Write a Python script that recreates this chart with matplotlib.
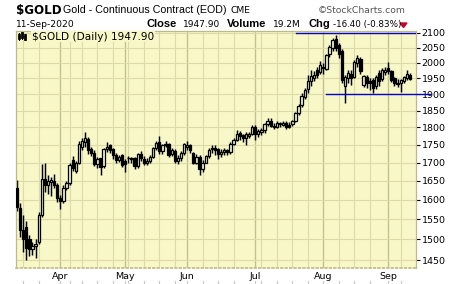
import matplotlib
matplotlib.use("Agg")
import matplotlib.pyplot as plt
import numpy as np
import pandas as pd
from matplotlib.lines import Line2D
from matplotlib.patches import Polygon
from matplotlib.ticker import FixedLocator, NullLocator, FuncFormatter

# daily candles, 12-Mar-2020 .. 11-Sep-2020
dates = pd.bdate_range("2020-03-12", "2020-09-11")
holidays = pd.to_datetime(["2020-04-10", "2020-05-25", "2020-07-03", "2020-09-07"])
dates = dates[~dates.isin(holidays)]

opens = [1630, 1580, 1524, 1530, 1500, 1478, 1484, 1495, 1562, 1656,
         1640, 1648, 1650, 1640, 1605, 1598, 1630, 1645, 1708, 1676,
         1700, 1745, 1758, 1766, 1738, 1727, 1695, 1712, 1690, 1738,
         1750, 1738, 1722, 1708, 1720, 1705, 1712, 1712, 1712, 1690,
         1725, 1710, 1698, 1705, 1716, 1740, 1758, 1733, 1750, 1753,
         1723, 1733, 1705, 1713, 1728, 1745, 1750, 1726, 1700, 1716,
         1683, 1700, 1718, 1737, 1742, 1737, 1725, 1730, 1735, 1730,
         1753, 1765, 1783, 1777, 1770, 1775, 1782, 1800, 1780, 1788,
         1793, 1809, 1820, 1803, 1801, 1812, 1808, 1814, 1808, 1810,
         1818, 1843, 1866, 1893, 1915, 1940, 1950, 1975, 1970, 1985,
         1980, 2030, 2048, 2079, 2060, 2040, 1925, 1950, 1965, 1955,
         2000, 2012, 1930, 1955, 1940, 1945, 1925, 1968, 1948, 1970,
         1982, 1974, 1950, 1935, 1935, 1940, 1950, 1960]
highs = [1653, 1592, 1560, 1547, 1510, 1495, 1502, 1568, 1697, 1700,
         1665, 1660, 1668, 1645, 1612, 1640, 1650, 1700, 1718, 1705,
         1760, 1770, 1788, 1772, 1745, 1735, 1716, 1714, 1742, 1758,
         1752, 1742, 1728, 1722, 1725, 1711, 1718, 1716, 1715, 1728,
         1732, 1719, 1712, 1722, 1745, 1762, 1776, 1752, 1760, 1756,
         1740, 1738, 1720, 1733, 1755, 1760, 1752, 1730, 1725, 1720,
         1708, 1722, 1742, 1748, 1748, 1740, 1738, 1740, 1738, 1757,
         1770, 1793, 1790, 1782, 1786, 1788, 1806, 1806, 1795, 1798,
         1812, 1828, 1829, 1812, 1820, 1816, 1820, 1818, 1815, 1822,
         1846, 1870, 1905, 1920, 1960, 1975, 1972, 1985, 2005, 2000,
         2030, 2058, 2081, 2092, 2065, 2045, 1960, 1975, 1978, 2008,
         2025, 2020, 1962, 1962, 1950, 1950, 1960, 1978, 1982, 1985,
         2002, 1978, 1955, 1948, 1948, 1958, 1975, 1966]
lows = [1572, 1505, 1470, 1450, 1460, 1462, 1455, 1490, 1555, 1620,
        1615, 1610, 1630, 1595, 1576, 1592, 1625, 1640, 1678, 1672,
        1695, 1735, 1745, 1725, 1718, 1690, 1684, 1666, 1686, 1730,
        1728, 1710, 1700, 1702, 1688, 1675, 1700, 1700, 1683, 1686,
        1705, 1692, 1694, 1700, 1712, 1735, 1725, 1725, 1743, 1716,
        1718, 1700, 1695, 1705, 1722, 1735, 1728, 1696, 1695, 1666,
        1673, 1698, 1712, 1727, 1722, 1709, 1715, 1722, 1722, 1725,
        1748, 1762, 1765, 1757, 1750, 1768, 1778, 1765, 1772, 1778,
        1785, 1805, 1800, 1795, 1798, 1800, 1805, 1795, 1797, 1804,
        1815, 1838, 1862, 1885, 1905, 1925, 1942, 1950, 1965, 1965,
        1975, 2018, 2040, 2040, 2015, 1935, 1872, 1935, 1930, 1950,
        1985, 1965, 1922, 1918, 1912, 1905, 1915, 1925, 1940, 1960,
        1965, 1938, 1925, 1923, 1908, 1935, 1945, 1943]
closes = [1582, 1524, 1500, 1480, 1478, 1483, 1488, 1562, 1656, 1640,
          1650, 1652, 1640, 1605, 1598, 1630, 1645, 1692, 1684, 1700,
          1752, 1760, 1770, 1736, 1728, 1697, 1711, 1688, 1738, 1745,
          1735, 1722, 1708, 1716, 1694, 1695, 1713, 1710, 1690, 1725,
          1713, 1698, 1705, 1716, 1740, 1756, 1732, 1749, 1752, 1721,
          1735, 1705, 1713, 1728, 1751, 1750, 1735, 1700, 1715, 1683,
          1700, 1718, 1736, 1740, 1734, 1725, 1730, 1735, 1730, 1753,
          1765, 1782, 1775, 1768, 1780, 1782, 1800, 1780, 1790, 1793,
          1809, 1820, 1803, 1801, 1812, 1810, 1814, 1800, 1802, 1818,
          1843, 1865, 1895, 1912, 1940, 1958, 1962, 1962, 1994, 1982,
          2025, 2052, 2075, 2048, 2030, 1946, 1955, 1968, 1950, 2003,
          2014, 1972, 1958, 1935, 1935, 1918, 1955, 1940, 1975, 1978,
          1972, 1945, 1935, 1933, 1943, 1954, 1964, 1948]

yticks = list(range(1450, 2101, 50))
resist_level = 2100
support_level = 1900

bg = "#f8f7c8"
grid_minor = "#dcdaa6"
grid_major = "#c4c28c"
spine_col = "#bdb98a"

W, H = 460, 284
fig = plt.figure(figsize=(W / 100, H / 100), dpi=100)
fig.patch.set_facecolor("white")
ax = fig.add_axes([16 / W, (H - 268) / H, 400 / W, 237 / H])
ax.set_facecolor(bg)

x = np.arange(len(dates))
o = np.array(opens, float)
h = np.array(highs, float)
l = np.array(lows, float)
c = np.array(closes, float)

ax.set_yscale("log")
ax.set_ylim(1432, 2106)
ax.set_xlim(-0.32, 128.96)

# grid: first trading day of each month (darker) and of each week
months = pd.Series(dates.to_period("M"))
month_pos = [i for i in range(len(dates)) if i > 0 and months[i] != months[i - 1]]
weeks = pd.Series(dates.to_period("W"))
week_pos = [i for i in range(len(dates)) if i > 0 and weeks[i] != weeks[i - 1]]
week_pos = [i for i in week_pos if not any(0 <= m - i <= 2 for m in month_pos)]
for i in week_pos:
    ax.axvline(i, color=grid_minor, lw=0.8, zorder=0)
for i in month_pos:
    ax.axvline(i, color=grid_major, lw=1.0, zorder=0)
for y in yticks:
    ax.axhline(y, color=grid_minor, lw=0.8, zorder=0)

# small marks below the date labels
for i in week_pos + month_pos:
    ax.plot([i, i], [-0.055, -0.068], color="#c8c8c8", lw=0.8,
            transform=ax.get_xaxis_transform(), clip_on=False)

# candles
ax.vlines(x, l, h, color="black", lw=1.05, zorder=2)
up = c >= o
bottoms = np.minimum(o, c)
heights = np.maximum(np.abs(c - o), 0.6)
ax.bar(x, heights, bottom=bottoms, width=0.74,
       color=np.where(up, bg, "black"), edgecolor="black", linewidth=0.9, zorder=3)

# trend lines
ax.plot([90.2, 128.96], [resist_level, resist_level], color="#0000c8", lw=1.0, zorder=4)
ax.plot([99.9, 133.4], [support_level, support_level], color="#0000c8", lw=1.0,
        zorder=4, clip_on=False)

# axes styling
ax.yaxis.tick_right()
ax.yaxis.set_major_locator(FixedLocator(yticks))
ax.yaxis.set_minor_locator(NullLocator())
ax.yaxis.set_major_formatter(FuncFormatter(lambda v, p: f"{v:.0f}"))
ax.tick_params(axis="y", which="major", length=3, width=0.8, pad=1,
               labelsize=6.8, colors="black")
ax.tick_params(axis="y", which="minor", length=0)
ax.set_xticks(month_pos)
ax.set_xticklabels([d.strftime("%b") for d in dates[month_pos]])
ax.tick_params(axis="x", length=0, pad=3, labelsize=6.8)

for s in ["left", "right", "top"]:
    ax.spines[s].set_color(spine_col)
    ax.spines[s].set_linewidth(0.9)
ax.spines["bottom"].set_color(spine_col)
ax.spines["bottom"].set_linestyle(":")
ax.spines["bottom"].set_linewidth(1.2)

# label inside plot
fig.text(32 / W, 1 - 39.6 / H, "$GOLD (Daily) 1947.90", fontsize=7.6,
         family="DejaVu Sans", va="baseline", ha="left",
         bbox=dict(facecolor=bg, edgecolor="none", pad=0.6))
# tiny chart icon
for xi, (y0, y1, b0, b1) in zip([19.5, 22.5, 25.5],
                                [(33, 40, 35, 38), (32, 39, 33, 37), (34, 40, 35, 39)]):
    fig.add_artist(Line2D([xi / W, xi / W], [1 - y0 / H, 1 - y1 / H],
                          color="black", lw=0.7, transform=fig.transFigure))
    fig.add_artist(Line2D([xi / W, xi / W], [1 - b0 / H, 1 - b1 / H],
                          color="black", lw=2.0, transform=fig.transFigure))

# header
def ftext(px, py, s, **kw):
    fig.text(px / W, 1 - py / H, s, va="baseline", ha="left", **kw)

ftext(16, 13.6, "$GOLD", fontsize=8.6, fontweight="bold", family="DejaVu Sans")
ftext(63, 12.8, "Gold - Continuous Contract (EOD)", fontsize=7.7, family="Liberation Sans")
ftext(231, 12.8, "CME", fontsize=6.6, family="DejaVu Sans")
ftext(318, 12.8, "\u00a9StockCharts.com", fontsize=6.7, family="DejaVu Sans", color="#555555")

ftext(16, 27.4, "11-Sep-2020", fontsize=6.6, family="DejaVu Sans")
ftext(147, 27.4, "Close", fontsize=8.0, fontweight="bold", family="Liberation Sans")
ftext(183, 27.4, "1947.90", fontsize=6.5, family="DejaVu Sans")
ftext(227, 27.4, "Volume", fontsize=8.0, fontweight="bold", family="Liberation Sans")
ftext(273, 27.4, "19.2M", fontsize=6.5, family="DejaVu Sans")
ftext(309, 27.4, "Chg", fontsize=8.0, fontweight="bold", family="Liberation Sans")
ftext(333, 27.4, "-16.40 (-0.83%)", fontsize=6.3, family="DejaVu Sans")
tri = Polygon([[400 / W, 1 - 23 / H], [407 / W, 1 - 23 / H], [403.5 / W, 1 - 27.5 / H]],
              closed=True, color="#c8002a", transform=fig.transFigure)
fig.add_artist(tri)

fig.savefig("out.png", dpi=100, facecolor="white")
